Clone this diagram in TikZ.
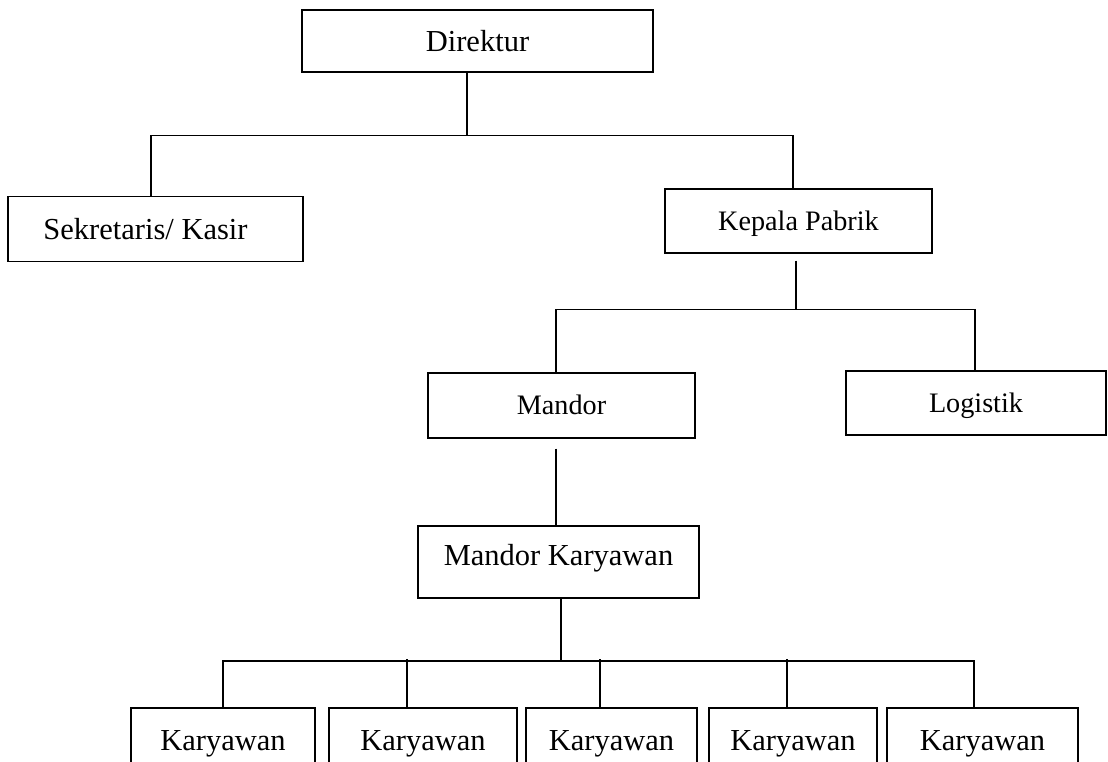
\documentclass[tikz,border=0pt]{standalone}
\usepackage{fontspec}
\setmainfont{Liberation Serif}
\begin{document}
\begin{tikzpicture}[x=1pt,y=-1pt,
  box/.style={draw, line width=1.3pt, inner sep=0pt, text height=20pt, text depth=0pt,
    font=\fontsize{30.5}{36}\selectfont},
  midbox/.style={box, text height=18.6pt, font=\fontsize{28.2}{34}\selectfont},
  thickbox/.style={box, line width=2.2pt},
  conn/.style={line width=1.3pt}]
\useasboundingbox (0,0) rectangle (1108,761);
\clip (0,0) rectangle (1108,761);
\node[box, minimum width=351pt, minimum height=62pt] (dir) at (477.5,41) {Direktur};
\node[box, minimum width=295pt, minimum height=65pt] (sek) at (155.5,229) {Sekretaris/ Kasir\hspace*{20pt}};
\node[midbox, minimum width=267pt, minimum height=64pt] (kep) at (798.5,221) {Kepala Pabrik};
\node[midbox, minimum width=267pt, minimum height=65pt] (man) at (561.5,405.5) {Mandor};
\node[midbox, minimum width=260pt, minimum height=64pt] (log) at (976,403) {Logistik};
\node[thickbox, minimum width=281pt, minimum height=72pt] (mk) at (558.5,562) {\raisebox{7pt}{Mandor Karyawan}};
\node[box, minimum width=184pt, minimum height=64pt] (k1) at (223,740) {Karyawan};
\node[box, minimum width=188pt, minimum height=64pt] (k2) at (423,740) {Karyawan};
\node[box, minimum width=171pt, minimum height=64pt] (k3) at (611.5,740) {Karyawan};
\node[box, minimum width=168pt, minimum height=64pt] (k4) at (793,740) {Karyawan};
\node[box, minimum width=191pt, minimum height=64pt] (k5) at (982.5,740) {Karyawan};
% Direktur level
\draw[conn] ([xshift=-10.5pt]dir.south) -- ++(0,63) coordinate (bus1);
\draw[conn] ([xshift=-4.5pt]sek.north) |- (bus1) -| ([xshift=-5.5pt]kep.north);
% Kepala Pabrik level
\draw[conn, shorten <=7pt] ([xshift=-2.5pt]kep.south) -- ++(0,56) coordinate (bus2);
\draw[conn] ([xshift=-5.5pt]man.north) |- (bus2) -| ([xshift=-1pt]log.north);
% Mandor
\draw[conn, shorten <=10pt] ([xshift=-5.5pt]man.south) -- ([xshift=-2.5pt]mk.north);
% Mandor Karyawan level
\draw[conn] ([xshift=2.5pt]mk.south) -- ++(0,62) coordinate (bus3);
\draw[conn] (k1.north) |- (bus3) -| ([xshift=-8.5pt]k5.north);
\draw[conn] ([xshift=-16pt]k2.north) -- ++(0,-48);
\draw[conn] ([xshift=-11.5pt]k3.north) -- ++(0,-48);
\draw[conn] ([xshift=-6pt]k4.north) -- ++(0,-48);
\end{tikzpicture}
\end{document}
